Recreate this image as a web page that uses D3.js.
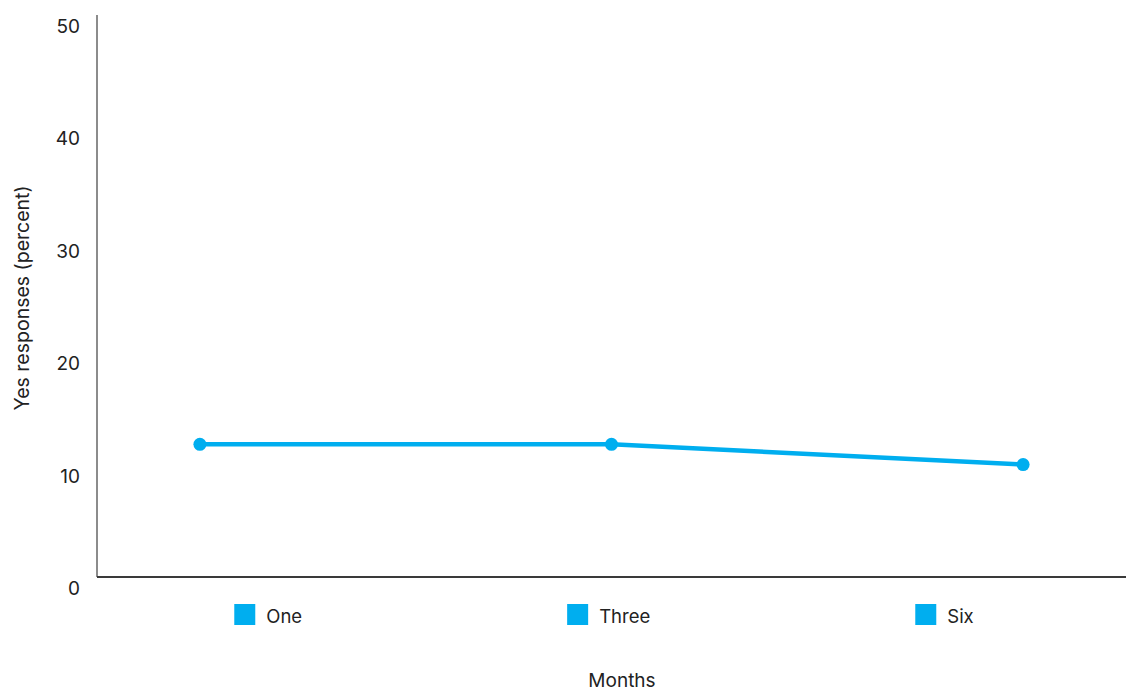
<!DOCTYPE html>
<html>
<head>
<meta charset="utf-8">
<script src="https://cdn.jsdelivr.net/npm/d3@7"></script>
<style>
  html, body { margin: 0; padding: 0; background: #fff; }
  svg { display: block; font-family: Inter, "Open Sans", sans-serif; }
</style>
</head>
<body>
<svg id="chart" width="1126" height="692"></svg>
<script>
// Share of "yes" responses at each follow-up month
const months = ["One", "Three", "Six"];
const yesPercent = [11.8, 11.8, 10.0];
const yTicks = [0, 10, 20, 30, 40, 50];

const W = 1126, H = 692;
const margin = { top: 15, right: 0, bottom: 115, left: 97 };
const lineColor = "#00aeef";
const textColor = "#222";

const svg = d3.select("#chart");

const x = d3.scalePoint()
  .domain(months)
  .range([margin.left, W - margin.right])
  .padding(0.25);

const y = d3.scaleLinear()
  .domain([0, 50])
  .range([H - margin.bottom, margin.top]);

// y axis line and labels (labels sit just below their tick value)
svg.append("line")
  .attr("x1", margin.left).attr("x2", margin.left)
  .attr("y1", y(50)).attr("y2", y(0))
  .attr("stroke", "#666").attr("stroke-width", 1.5);

svg.append("g").selectAll("text")
  .data(yTicks)
  .join("text")
  .attr("x", 80)
  .attr("y", d => y(d) + 18)
  .attr("text-anchor", "end")
  .attr("font-size", 19)
  .attr("fill", textColor)
  .text(d => d);

// x axis baseline
svg.append("line")
  .attr("x1", margin.left).attr("x2", W)
  .attr("y1", y(0)).attr("y2", y(0))
  .attr("stroke", "#3a3a3a").attr("stroke-width", 2);

// series line and markers
const line = d3.line()
  .x((d, i) => x(months[i]))
  .y(d => y(d));

svg.append("path")
  .datum(yesPercent)
  .attr("d", line)
  .attr("fill", "none")
  .attr("stroke", lineColor)
  .attr("stroke-width", 4.5);

svg.append("g").selectAll("circle")
  .data(yesPercent)
  .join("circle")
  .attr("cx", (d, i) => x(months[i]))
  .attr("cy", d => y(d))
  .attr("r", 6.5)
  .attr("fill", lineColor);

// category legend under the axis
const legend = svg.append("g");
const items = legend.selectAll("g")
  .data(months)
  .join("g");
items.append("rect")
  .attr("width", 21).attr("height", 21)
  .attr("y", 604)
  .attr("fill", lineColor);
items.append("text")
  .attr("x", 32).attr("y", 623)
  .attr("font-size", 18.5)
  .attr("fill", textColor)
  .text(d => d);

let cursor = 0;
const gap = 265;
items.each(function () {
  const g = d3.select(this);
  g.attr("transform", `translate(${cursor},0)`);
  cursor += this.getBBox().width + gap;
});
const legendWidth = cursor - gap;
const legendCenter = 604;
legend.attr("transform", `translate(${legendCenter - legendWidth / 2},0)`);

// axis titles
svg.append("text")
  .attr("x", 622).attr("y", 687)
  .attr("text-anchor", "middle")
  .attr("font-size", 19)
  .attr("fill", textColor)
  .text("Months");

svg.append("text")
  .attr("transform", `translate(29,${298}) rotate(-90)`)
  .attr("text-anchor", "middle")
  .attr("font-size", 19.5)
  .attr("fill", textColor)
  .text("Yes responses (percent)");
</script>
</body>
</html>
